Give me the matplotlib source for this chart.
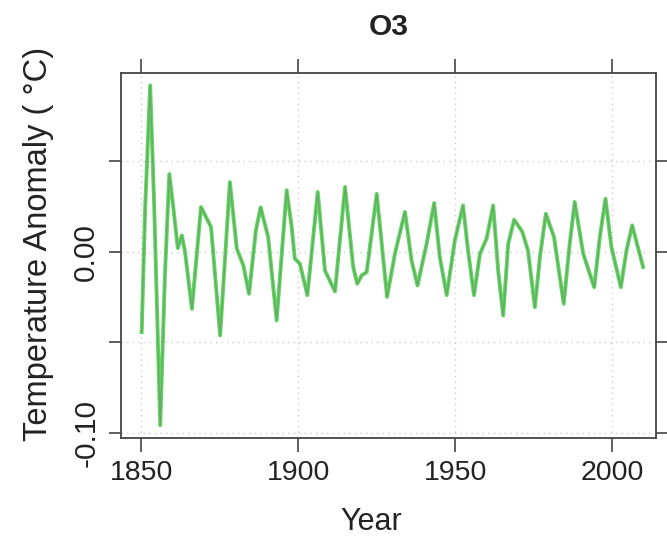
import matplotlib
matplotlib.use("Agg")
import matplotlib.pyplot as plt

# Anomalia de temperatura (O3)
years = [1850.1, 1851.2, 1852.8, 1854.1, 1856.0, 1857.5, 1858.9, 1860.2, 1861.6,
         1862.9, 1863.9, 1866.1, 1869.0, 1872.2, 1875.1, 1878.2, 1880.4, 1882.5,
         1884.3, 1886.5, 1888.0, 1890.4, 1893.1, 1896.3, 1897.9, 1898.9, 1900.5,
         1902.9, 1906.2, 1908.5, 1911.7, 1914.9, 1917.5, 1918.8, 1920.2, 1921.8,
         1925.0, 1928.3, 1930.8, 1934.0, 1936.1, 1938.0, 1940.9, 1943.3, 1945.1,
         1947.3, 1949.9, 1952.5, 1954.1, 1956.0, 1957.9, 1960.0, 1962.1, 1963.7,
         1965.3, 1966.9, 1968.8, 1971.4, 1973.2, 1975.4, 1977.0, 1978.9, 1981.5,
         1984.6, 1986.5, 1988.1, 1990.8, 1994.3, 1996.1, 1997.9, 1999.8, 2002.8,
         2004.6, 2006.4, 2009.9]
anomaly = [-0.0445, 0.024, 0.092, 0.024, -0.096, -0.013, 0.043, 0.024, 0.002,
           0.009, 0.000, -0.0316, 0.0247, 0.0136, -0.0463, 0.0385, 0.0017, -0.0076,
           -0.0233, 0.012, 0.0245, 0.0081, -0.038, 0.034, 0.0136, -0.0039, -0.0066,
           -0.024, 0.033, -0.0104, -0.022, 0.0358, -0.0085, -0.0177, -0.0131, -0.0113,
           0.032, -0.025, -0.0011, 0.022, -0.0048, -0.0187, 0.0044, 0.0269, -0.003,
           -0.024, 0.0063, 0.0256, 0.0007, -0.024, -0.0011, 0.0072, 0.0256, -0.0104,
           -0.0353, 0.0044, 0.0177, 0.011, 0.0007, -0.0307, -0.003, 0.021, 0.0081,
           -0.0288, 0.0044, 0.0275, -0.0011, -0.0196, 0.0081, 0.0293, 0.0025, -0.0196,
           0.0007, 0.0146, -0.0085]

xticks = [1850, 1900, 1950, 2000]
yticks = [-0.10, -0.05, 0.00, 0.05]
ytick_labels = ["-0.10", "", "0.00", ""]

plt.rcParams["font.family"] = ["Liberation Sans", "DejaVu Sans"]
txt = "#222222"

fig = plt.figure(figsize=(6.67, 5.38), dpi=100)
ax = fig.add_axes([0.1814, 0.1859, 0.8021, 0.679])

# trait vert clair avec un coeur plus sombre, comme dans l'original
ax.plot(years, anomaly, color="#5ed85e", linewidth=2.8, solid_joinstyle="round")
ax.plot(years, anomaly, color="#6aa86a", linewidth=1.0, solid_joinstyle="round")

ax.set_xlim(1843.5, 2014)
ax.set_ylim(-0.103, 0.099)

ax.grid(True, color="#cccccc", linestyle=(0, (1, 3)), linewidth=1)
ax.tick_params(axis="both", direction="out", length=9, width=1.2, colors="#444444",
               labelsize=20.5, labelcolor=txt, top=True, right=True, pad=6)
ax.tick_params(axis="x", length=10)
for s in ax.spines.values():
    s.set_color("#444444")
    s.set_linewidth(1.3)

ax.set_xticks(xticks)
ax.set_yticks(yticks)
ax.set_xticklabels([str(x) for x in xticks])
ax.set_yticklabels(ytick_labels, rotation=90, va="center", fontsize=21.5)

ax.set_title("O3", fontsize=21.5, fontweight="bold", color=txt, pad=27)
ax.set_xlabel("Year", fontsize=22, color=txt)
ax.xaxis.set_label_coords(0.467, -0.19)
ax.set_ylabel("Temperature Anomaly ( °C)", fontsize=23.5, color=txt)
ax.yaxis.set_label_coords(-0.125, 0.532)

fig.savefig("out.png", dpi=100)
